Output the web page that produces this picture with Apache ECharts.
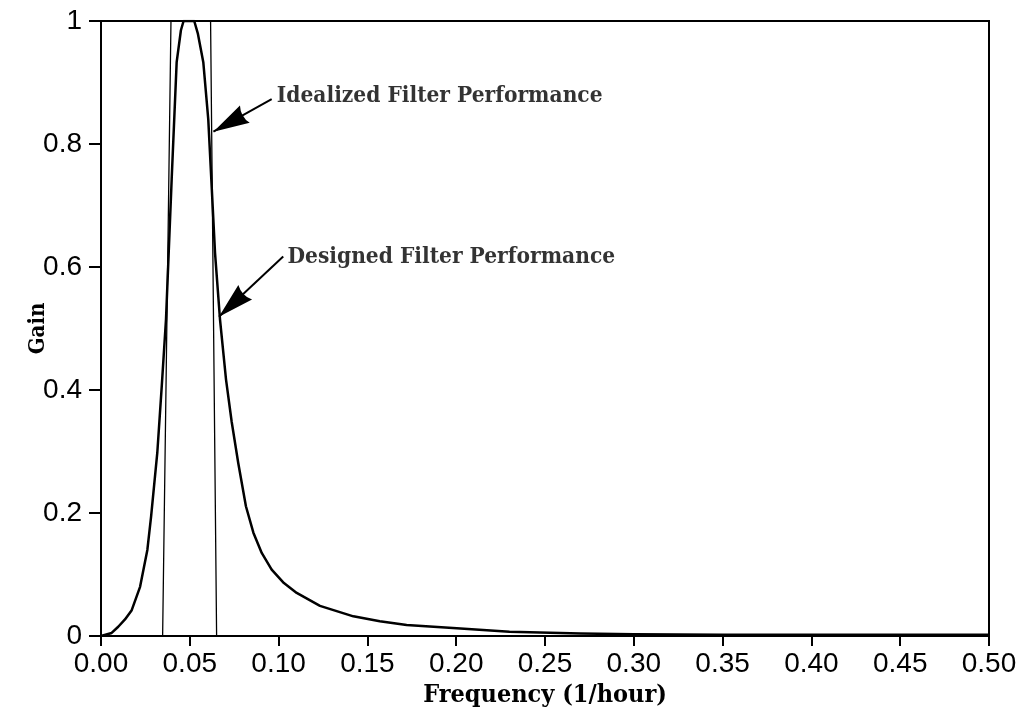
<!DOCTYPE html>
<html>
<head>
<meta charset="utf-8">
<script src="https://cdn.jsdelivr.net/npm/echarts@6/dist/echarts.min.js"></script>
<style>
  html, body { margin: 0; padding: 0; background: #fff; }
  #main { width: 1023px; height: 720px; }
</style>
</head>
<body>
<div id="main"></div>
<script type="text/javascript">
    // designed filter response
    var designedFreq = [0, 0.0011, 0.0060, 0.0097, 0.0135, 0.0173, 0.0220, 0.0261, 0.0282, 0.0317,
        0.0342, 0.0366, 0.0398, 0.0426, 0.0450, 0.0465, 0.0525, 0.0545, 0.0576, 0.0604, 0.0623,
        0.0642, 0.0670, 0.0704, 0.0736, 0.0773, 0.0816, 0.0858, 0.0905, 0.0961, 0.1030, 0.1102,
        0.1233, 0.1421, 0.1570, 0.1721, 0.2003, 0.2300, 0.2700, 0.3000, 0.3500, 0.4000, 0.4500, 0.5000];
    var designedGain = [0, 0, 0.005, 0.015, 0.027, 0.042, 0.080, 0.140, 0.194, 0.298,
        0.406, 0.515, 0.743, 0.933, 0.985, 1.0, 1.0, 0.980, 0.933, 0.840, 0.732,
        0.623, 0.515, 0.417, 0.348, 0.281, 0.211, 0.168, 0.135, 0.108, 0.086, 0.070,
        0.049, 0.032, 0.024, 0.018, 0.0125, 0.007, 0.004, 0.003, 0.002, 0.002, 0.002, 0.002];

    // idealized band-pass
    var idealFreq = [0, 0.0347, 0.0394, 0.0617, 0.0651, 0.5];
    var idealGain = [0, 0, 1, 1, 0, 0];

    // annotations: text anchor and arrow (from -> tip), in data units
    var noteText = ['Idealized Filter Performance', 'Designed Filter Performance'];
    var noteAt = [[0.0990, 0.878], [0.1050, 0.616]];
    var arrowFrom = [[0.0961, 0.873], [0.1026, 0.617]];
    var arrowTip = [[0.0633, 0.820], [0.0664, 0.519]];

    function zip(a, b) {
        return a.map(function (v, i) { return [v, b[i]]; });
    }

    var serif = '"DejaVu Serif Condensed", "DejaVu Serif", "Liberation Serif", serif';
    var sans = '"Liberation Sans", Arial, sans-serif';
    // filled triangle with a slightly hollow back, tip up
    var headPath = 'path://M10,0 L20,36 Q10,31 0,36 Z';

    var myChart = echarts.init(document.getElementById('main'));
    myChart.setOption({
        animation: false,
        backgroundColor: '#fff',
        grid: {
            left: 101, right: 34, top: 21, bottom: 84,
            containLabel: false,
            outerBoundsMode: 'none',
            show: true,
            borderColor: '#000',
            borderWidth: 2
        },
        xAxis: {
            type: 'value',
            min: 0, max: 0.5, interval: 0.05,
            name: 'Frequency (1/hour)',
            nameLocation: 'middle',
            nameGap: 47,
            nameMoveOverlap: false,
            nameTextStyle: { fontFamily: serif, fontSize: 25, fontWeight: 'bold', color: '#000' },
            axisLine: { lineStyle: { color: '#000', width: 2 } },
            axisTick: { length: 10, lineStyle: { color: '#000', width: 2 } },
            axisLabel: {
                margin: 14, fontFamily: sans, fontSize: 28, color: '#000',
                formatter: function (v) { return v.toFixed(2); }
            },
            splitLine: { show: false }
        },
        yAxis: {
            type: 'value',
            min: 0, max: 1, interval: 0.2,
            name: 'Gain',
            nameLocation: 'middle',
            nameGap: 52,
            nameMoveOverlap: false,
            nameTextStyle: { fontFamily: serif, fontSize: 22, fontWeight: 'bold', color: '#000' },
            axisLine: { lineStyle: { color: '#000', width: 2 } },
            axisTick: { length: 12, lineStyle: { color: '#000', width: 2 } },
            axisLabel: { margin: 19, fontFamily: sans, fontSize: 28, color: '#000' },
            splitLine: { show: false }
        },
        series: [
            {
                name: 'Idealized',
                type: 'line',
                data: zip(idealFreq, idealGain),
                symbol: 'none',
                lineStyle: { color: '#000', width: 1.3 },
                z: 3
            },
            {
                name: 'Designed',
                type: 'line',
                data: zip(designedFreq, designedGain),
                symbol: 'none',
                lineStyle: { color: '#000', width: 2.5, join: 'round' },
                z: 4
            },
            {
                name: 'notes',
                type: 'scatter',
                data: noteAt.map(function (p, i) { return { value: p, name: noteText[i] }; }),
                symbolSize: 0,
                label: {
                    show: true,
                    position: 'right',
                    distance: 0,
                    formatter: '{b}',
                    fontFamily: serif,
                    fontSize: 22.5,
                    fontWeight: 'bold',
                    color: '#000'
                },
                markLine: {
                    silent: true,
                    label: { show: false },
                    lineStyle: { color: '#000', width: 2, type: 'solid' },
                    data: arrowFrom.map(function (p, i) {
                        return [
                            { coord: p, symbol: 'none' },
                            { coord: arrowTip[i], symbol: headPath, symbolSize: [20, 36], symbolOffset: [0, 18] }
                        ];
                    })
                },
                z: 5
            }
        ]
    });
</script>
</body>
</html>
